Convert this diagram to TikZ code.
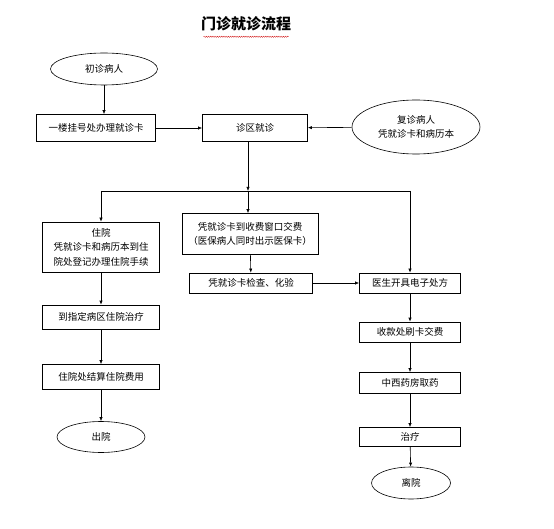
\documentclass[tikz,border=0pt]{standalone}
\usepackage{fontspec}
\setmainfont{Noto Sans CJK SC}
\usetikzlibrary{arrows.meta,shapes.geometric,decorations.pathmorphing}
\tikzset{
    box/.style={
        draw=black,line width=0.6pt,align=center,inner sep=1pt,
        font=\fontsize{9.5}{14.5}\selectfont
    },
    oval/.style={
        draw=black,line width=0.6pt,ellipse,align=center,inner sep=0pt,
        font=\fontsize{9.5}{14.5}\selectfont
    },
    arrow/.style={
        -{Latex[length=4pt,width=3.2pt]},line width=0.6pt,draw=black
    }
}

\begin{document}
\begin{tikzpicture}[x=1pt,y=-1pt]

\useasboundingbox (0,0) rectangle (554,529);

\node[font=\fontsize{15}{18}\selectfont\bfseries] (title) at (246,24) {门诊就诊流程};
\draw[red!80!black,line width=0.3pt,decorate,
      decoration={snake,amplitude=0.6pt,segment length=2.2pt}]
    ([yshift=-2pt]title.south west) ++(6,0) -- ([xshift=-6pt,yshift=-2pt]title.south east);

% first visit
\node[oval,minimum width=107,minimum height=32] (chu) at (104,69) {初诊病人};
\node[box,minimum width=119,minimum height=27] (gua) at (96,128) {一楼挂号处办理就诊卡};
\node[box,minimum width=105,minimum height=27] (zq) at (255,128) {诊区就诊};
\node[oval,minimum width=128,minimum height=54] (fu) at (416,127)
{复诊病人\\凭就诊卡和病历本};

\coordinate (j) at (248,191);

% hospital stay
\node[box,minimum width=117,minimum height=50] (zy) at (101,247)
{住院\\凭就诊卡和病历本到住\\院处登记办理住院手续};
\node[box,minimum width=117,minimum height=24] (zd) at (101,317) {到指定病区住院治疗};
\node[box,minimum width=117,minimum height=25] (js) at (101,377) {住院处结算住院费用};
\node[oval,minimum width=88,minimum height=31] (cy) at (101,437) {出院};

% examination
\node[box,minimum width=136,minimum height=41] (sf) at (250,234)
{凭就诊卡到收费窗口交费\\（医保病人同时出示医保卡）};
\node[box,minimum width=123,minimum height=20] (jc) at (251,283) {凭就诊卡检查、化验};

% prescription
\node[box,minimum width=101,minimum height=20] (ys) at (410,283) {医生开具电子处方};
\node[box,minimum width=101,minimum height=20] (sk) at (410,332) {收款处刷卡交费};
\node[box,minimum width=101,minimum height=21] (yf) at (410,383) {中西药房取药};
\node[box,minimum width=101,minimum height=19] (zl) at (410,437) {治疗};
\node[oval,minimum width=79,minimum height=32] (ly) at (411,483) {离院};

\draw[arrow] (chu.south) -- (chu.south |- gua.north);
\draw[arrow] (gua) -- (zq);
\draw[arrow] (fu) -- (zq);
\draw[arrow] (j |- zq.south) -- (j);
\draw[line width=0.6pt] (zy.north |- j) -- (ys.north |- j);
\draw[arrow] (zy.north |- j) -- (zy);
\draw[arrow] (j) -- (j |- sf.north);
\draw[arrow] (ys.north |- j) -- (ys);
\draw[arrow] (sf) -- (jc);
\draw[arrow] (jc) -- (ys);
\draw[arrow] (ys) -- (sk);
\draw[arrow] (sk) -- (yf);
\draw[arrow] (yf) -- (zl);
\draw[arrow] (zl) -- (ly);
\draw[arrow] (zy) -- (zd);
\draw[arrow] (zd) -- (js);
\draw[arrow] (js) -- (cy);

\end{tikzpicture}
\end{document}
